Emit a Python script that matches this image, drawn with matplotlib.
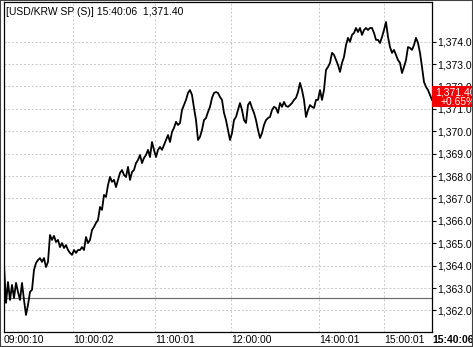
import numpy as np
import matplotlib
matplotlib.use("Agg")
import matplotlib.pyplot as plt
from matplotlib.patches import Rectangle

# -------------------------------------------------------------------- #
# USD/KRW spot, intraday ticks
prices = [
    1364.03, 1362.34, 1363.27, 1362.47, 1363.14, 1362.56, 1363.23, 1362.83, 1362.47, 1363.23,
    1362.47, 1361.80, 1362.25, 1362.83, 1362.92, 1363.81, 1364.12, 1364.25, 1364.34, 1364.17,
    1364.34, 1363.94, 1364.17, 1365.37, 1365.15, 1365.33, 1365.06, 1365.15, 1364.83, 1365.01,
    1364.79, 1364.92, 1364.70, 1364.57, 1364.48, 1364.70, 1364.57, 1364.70, 1364.70, 1364.83,
    1364.70, 1365.28, 1365.01, 1365.15, 1365.59, 1365.73, 1365.91, 1366.04, 1366.62, 1366.49,
    1367.16, 1367.07, 1367.60, 1367.96, 1367.74, 1367.83, 1367.51, 1367.83, 1368.14, 1368.27,
    1368.05, 1367.96, 1368.41, 1367.83, 1368.18, 1368.27, 1368.58, 1368.72, 1368.94, 1368.58,
    1368.81, 1368.94, 1369.17, 1368.85, 1369.52, 1369.17, 1368.85, 1369.17, 1369.30, 1369.17,
    1369.39, 1369.61, 1369.83, 1369.52, 1369.97, 1370.15, 1370.42, 1370.28, 1370.37, 1370.95,
    1371.17, 1371.40, 1371.71, 1371.84, 1371.62, 1371.04, 1370.50, 1369.61, 1369.75, 1370.06,
    1370.50, 1370.59, 1370.86, 1371.09, 1371.49, 1371.71, 1371.75, 1371.71, 1371.53, 1371.40,
    1370.82, 1370.50, 1370.06, 1369.61, 1369.92, 1370.50, 1370.64, 1370.95, 1371.26, 1370.95,
    1370.50, 1370.37, 1371.17, 1371.31, 1371.04, 1370.82, 1370.50, 1370.06, 1369.70, 1369.92,
    1370.28, 1370.50, 1370.59, 1370.64, 1370.95, 1371.09, 1371.04, 1370.82, 1371.26, 1371.09,
    1371.31, 1371.13, 1371.09, 1371.17, 1371.26, 1371.40, 1371.49, 1371.75, 1372.16, 1371.84,
    1371.40, 1370.64, 1370.95, 1371.17, 1371.09, 1371.04, 1371.40, 1371.40, 1371.84, 1371.40,
    1371.84, 1372.74, 1372.87, 1373.05, 1373.50, 1373.41, 1373.18, 1372.96, 1372.65, 1373.05,
    1373.32, 1373.85, 1374.17, 1373.99, 1374.30, 1374.39, 1374.61, 1374.43, 1374.61, 1374.30,
    1374.52, 1374.61, 1374.52, 1374.61, 1374.61, 1374.39, 1374.08, 1374.08, 1373.94, 1374.21,
    1374.52, 1374.88, 1374.21, 1373.76, 1373.50, 1373.63, 1373.41, 1373.18, 1373.05, 1372.60,
    1372.87, 1373.18, 1373.76, 1373.72, 1373.63, 1373.85, 1374.17, 1373.94, 1373.50, 1372.87,
    1372.20, 1371.98, 1371.84, 1371.62, 1371.40,
]
prev_close = 1362.55
last_price = 1371.40
change_pct = "+0.65%"
title = "[USD/KRW SP (S)] 15:40:06  1,371.40"

time_labels = ["09:00:10", "10:00:02", "11:00:01", "12:00:00", "14:00:01", "15:00:01", "15:40:06"]
time_index = [0, 34.5, 75.5, 113.5, 157.5, 190, 214]
price_ticks = list(range(1362, 1375))


# -------------------------------------------------------------------- #
def main():
    plt.rcParams['font.family'] = ['Liberation Sans', 'DejaVu Sans']

    W, H = 473, 347
    fig = plt.figure(figsize=(W / 100, H / 100), dpi=100)
    ax = fig.add_axes([4 / W, 1 - 332 / H, (432 - 4) / W, (332 - 2) / H])

    idx = np.arange(len(prices))
    ax.plot(idx, prices, color='black', lw=1.3, zorder=3)
    ax.axhline(prev_close, color='#707070', lw=0.9, zorder=2)

    ax.set_xlim(0, len(prices) - 1)
    ax.set_ylim(1361.04, 1375.77)

    # y axis on the right
    ax.yaxis.tick_right()
    ax.set_yticks(price_ticks)
    ax.set_yticklabels(["{:,.2f}".format(p) for p in price_ticks])
    ax.tick_params(axis='y', direction='out', length=3, width=0.8, pad=1,
                   labelsize=7.5, colors='black')

    # x axis: labels start at the grid line
    ax.set_xticks(time_index)
    ax.set_xticklabels(time_labels)
    ax.tick_params(axis='x', length=0, pad=2.5, labelsize=7.5)
    for lbl in ax.get_xticklabels():
        lbl.set_horizontalalignment('left')
    ax.get_xticklabels()[-1].set_fontweight('bold')

    ax.grid(True, linestyle=(0, (2, 2)), color='#c8c8c8', lw=0.7, zorder=0)
    for s in ax.spines.values():
        s.set_color('black')
        s.set_linewidth(0.9)

    # last price box
    box = Rectangle((1.0, last_price - 0.3), 0.2, 0.9,
                    transform=ax.get_yaxis_transform(), facecolor='#f00000',
                    edgecolor='none', clip_on=False, zorder=10)
    ax.add_patch(box)
    ax.text(1.008, last_price + 0.31, "{:,.2f}".format(last_price),
            transform=ax.get_yaxis_transform(), color='white', fontsize=7.5,
            va='center', ha='left', zorder=11)
    ax.text(1.02, last_price - 0.09, change_pct,
            transform=ax.get_yaxis_transform(), color='white', fontsize=7.5,
            va='center', ha='left', zorder=11)

    fig.text(6 / W, 1 - 12 / H, title, fontsize=7.5, va='center', ha='left')

    fig.patches.append(Rectangle((0, 0), 1, 1, transform=fig.transFigure,
                                 fill=False, edgecolor='#404040', lw=1.5))

    fig.savefig('out.png', dpi=100)


if __name__ == "__main__":
    main()
